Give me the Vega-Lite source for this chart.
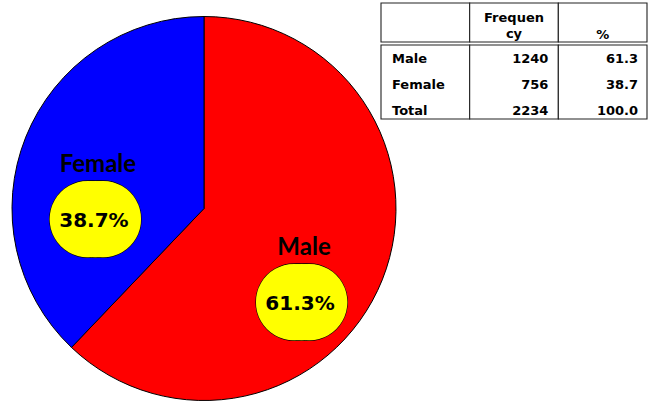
{
  "$schema": "https://vega.github.io/schema/vega-lite/v6.json",
  "padding": 0,
  "spacing": 0,
  "bounds": "flush",
  "config": {"view": {"stroke": null}, "text": {"color": "black"}},
  "datasets": {
    "freq": [
      {"sex": "Male", "freq": 1240, "pct": 61.3},
      {"sex": "Female", "freq": 756, "pct": 38.7},
      {"sex": "Total", "freq": 2234, "pct": 100.0}
    ],
    "cols": [
      {"col": "label", "head": ""},
      {"col": "Frequency", "head": "Frequen\ncy"},
      {"col": "%", "head": "%"}
    ]
  },
  "hconcat": [
    {
      "width": 381,
      "height": 417,
      "data": {"name": "freq"},
      "transform": [
        {"filter": "datum.sex != 'Total'"},
        {"calculate": "format(datum.pct, '.1f') + '%'", "as": "pctLabel"}
      ],
      "encoding": {
        "theta": {"field": "freq", "type": "quantitative", "stack": true},
        "order": {"field": "freq", "type": "quantitative", "sort": "descending"}
      },
      "layer": [
        {
          "mark": {"type": "arc", "outerRadius": 192, "xOffset": 13.5, "stroke": "black", "strokeWidth": 1},
          "encoding": {
            "color": {"field": "sex", "type": "nominal", "legend": null,
              "scale": {"domain": ["Male", "Female"], "range": ["#ff0000", "#0000ff"]}}
          }
        },
        {
          "mark": {"type": "text", "radius": 111, "xOffset": 13.5, "dy": 48, "dx": -13, "text": "●", "font": "DejaVu Sans", "fontSize": 100, "fill": "#ffff00", "stroke": "black", "strokeWidth": 1.2, "baseline": "middle", "align": "center"}
        },
        {
          "mark": {"type": "text", "radius": 111, "xOffset": 13.5, "dy": 48, "dx": -5.5, "text": "●", "font": "DejaVu Sans", "fontSize": 100, "fill": "#ffff00", "stroke": "black", "strokeWidth": 1.2, "baseline": "middle", "align": "center"}
        },
        {
          "mark": {"type": "text", "radius": 111, "xOffset": 13.5, "dy": 48, "dx": 2, "text": "●", "font": "DejaVu Sans", "fontSize": 100, "fill": "#ffff00", "stroke": "black", "strokeWidth": 1.2, "baseline": "middle", "align": "center"}
        },
        {
          "mark": {"type": "text", "radius": 111, "xOffset": 13.5, "dy": 48, "dx": -13, "text": "●", "font": "DejaVu Sans", "fontSize": 100, "fill": "#ffff00", "baseline": "middle", "align": "center"}
        },
        {
          "mark": {"type": "text", "radius": 111, "xOffset": 13.5, "dy": 48, "dx": -5.5, "text": "●", "font": "DejaVu Sans", "fontSize": 100, "fill": "#ffff00", "baseline": "middle", "align": "center"}
        },
        {
          "mark": {"type": "text", "radius": 111, "xOffset": 13.5, "dy": 48, "dx": 2, "text": "●", "font": "DejaVu Sans", "fontSize": 100, "fill": "#ffff00", "baseline": "middle", "align": "center"}
        },
        {
          "mark": {"type": "text", "radius": 111, "xOffset": 13.5, "dy": -2, "dx": -3, "font": "Lato", "fontWeight": "bold", "fontSize": 24, "baseline": "middle"},
          "encoding": {"text": {"field": "sex", "type": "nominal"}}
        },
        {
          "mark": {"type": "text", "radius": 111, "xOffset": 13.5, "dy": 54, "dx": -7, "font": "DejaVu Sans", "fontWeight": "bold", "fontSize": 20, "baseline": "middle"},
          "encoding": {"text": {"field": "pctLabel", "type": "nominal"}}
        }
      ]
    },
    {
      "spacing": 0,
      "bounds": "flush",
      "vconcat": [
        {
          "width": 266,
          "height": 42,
          "data": {"name": "cols"},
          "encoding": {
            "x": {"field": "col", "type": "nominal", "axis": null,
              "scale": {"domain": ["label", "Frequency", "%"], "paddingInner": 0, "paddingOuter": 0}}
          },
          "layer": [
            {"mark": {"type": "rect", "yOffset": 3, "y2Offset": 3, "fill": "white", "stroke": "#222", "strokeWidth": 1.1}},
            {
              "transform": [{"filter": "datum.col == 'Frequency'"}],
              "mark": {"type": "text", "yOffset": 3, "lineBreak": "\n", "lineHeight": 16, "font": "DejaVu Sans", "fontWeight": "bold", "fontSize": 13, "baseline": "top", "dy": -12},
              "encoding": {"text": {"field": "head", "type": "nominal"}}
            },
            {
              "transform": [{"filter": "datum.col == '%'"}],
              "mark": {"type": "text", "yOffset": 3, "font": "DejaVu Sans", "fontWeight": "bold", "fontSize": 13, "baseline": "middle", "dy": 10.5},
              "encoding": {"text": {"field": "head", "type": "nominal"}}
            }
          ]
        },
        {
          "width": 266,
          "height": 77,
          "layer": [
            {
              "data": {"name": "cols"},
              "mark": {"type": "rect", "yOffset": 3, "y2Offset": 3, "fill": "white", "stroke": "#222", "strokeWidth": 1.1},
              "encoding": {
                "x": {"field": "col", "type": "nominal", "axis": null,
                  "scale": {"domain": ["label", "Frequency", "%"], "paddingInner": 0, "paddingOuter": 0}}
              }
            },
            {
              "data": {"name": "freq"},
              "mark": {"type": "text", "yOffset": 3, "align": "left", "dx": 11, "dy": 1.5, "font": "DejaVu Sans", "fontWeight": "bold", "fontSize": 13, "baseline": "middle"},
              "encoding": {
                "x": {"datum": "label", "type": "nominal", "bandPosition": 0},
                "y": {"field": "sex", "type": "nominal", "axis": null,
                  "scale": {"domain": ["Male", "Female", "Total"], "paddingInner": 0, "paddingOuter": 0}},
                "text": {"field": "sex", "type": "nominal"}
              }
            },
            {
              "data": {"name": "freq"},
              "mark": {"type": "text", "yOffset": 3, "align": "right", "dx": -10, "dy": 1.5, "font": "DejaVu Sans", "fontWeight": "bold", "fontSize": 13, "baseline": "middle"},
              "encoding": {
                "x": {"datum": "Frequency", "type": "nominal", "bandPosition": 1},
                "y": {"field": "sex", "type": "nominal", "axis": null},
                "text": {"field": "freq", "type": "quantitative", "format": "d"}
              }
            },
            {
              "data": {"name": "freq"},
              "mark": {"type": "text", "yOffset": 3, "align": "right", "dx": -9, "dy": 1.5, "font": "DejaVu Sans", "fontWeight": "bold", "fontSize": 13, "baseline": "middle"},
              "encoding": {
                "x": {"datum": "%", "type": "nominal", "bandPosition": 1},
                "y": {"field": "sex", "type": "nominal", "axis": null},
                "text": {"field": "pct", "type": "quantitative", "format": ".1f"}
              }
            }
          ]
        }
      ]
    }
  ]
}
